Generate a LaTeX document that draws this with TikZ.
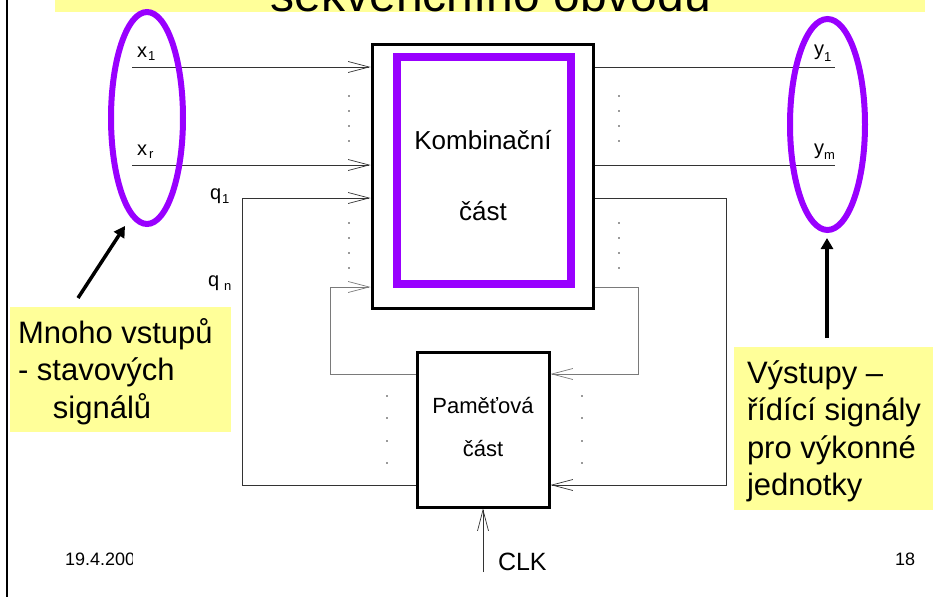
\documentclass[tikz,border=0pt]{standalone}
\usepackage{fontspec}
\setmainfont{Liberation Sans}
\usetikzlibrary{arrows.meta,shapes.geometric}
\definecolor{violetline}{HTML}{9900FF}
\definecolor{notefill}{HTML}{FFFF99}
\definecolor{wiredark}{HTML}{333333}
\definecolor{wirelight}{HTML}{7A7A7A}
% font size in pt, baselineskip equal to size
\newcommand\fsz[1]{\fontsize{#1}{#1}\selectfont}
% signal label: letter, subscript, kern before subscript, drop of subscript
\newcommand\sigl[4]{{\fsz{20}#1}\kern#3{\fsz{13}\raisebox{-#4}{#2}}}
\begin{document}
\begin{tikzpicture}[x=1pt,y=-1pt,
  txt/.style={inner sep=0pt,outer sep=0pt},
  wire/.style={draw=wiredark,line width=0.9pt},
  wirel/.style={draw=wirelight,line width=0.9pt},
  barb/.style={-{Straight Barb[length=21pt,width=11pt,line width=0.7pt]}},
  block/.style={draw=black,line width=3pt,fill=white,inner sep=0pt},
  oval/.style={draw=violetline,line width=6pt,inner sep=0pt},
  note/.style={fill=notefill,inner sep=0pt,anchor=north west},
  pointer/.style={draw=black,line width=3.5pt,-{Triangle[length=11pt,width=12pt]}},
  dot/.style={fill=wiredark}]
\useasboundingbox (0,0) rectangle (951,597);
\fill[white] (0,0) rectangle (951,597);

% slide frame edge
\draw[black,line width=2pt] (7,0) -- (7,597);

% title band, cut at the top edge
\begin{scope}
  \clip (0,0) rectangle (951,12);
  \fill[notefill] (55,0) rectangle (925,12);
  \node[txt,anchor=base,font=\fsz{48}] (title) at (491,11) {sekvenčního obvodu};
\end{scope}

% blocks
\node[block,minimum width=221,minimum height=264] (comb) at (482.5,176) {};
\node[draw=violetline,line width=8pt,inner sep=0pt,minimum width=174,minimum height=227] (combcore) at (484,170.5) {};
\node[block,minimum width=132,minimum height=155] (mem) at (483,429.5) {};

\node[txt,anchor=base,font=\fsz{26}] (combname1) at (483,149) {Kombinační};
\node[txt,anchor=base,font=\fsz{26}] (combname2) at (483,220) {část};
\node[txt,anchor=base,font=\fsz{22}] (memname1) at (483,413) {Paměťová};
\node[txt,anchor=base,font=\fsz{22}] (memname2) at (483,456) {část};

% input wires
\coordinate (x1s) at (132,67);
\coordinate (xrs) at (132,165);
\draw[wire,barb] (x1s) -- (x1s -| comb.west);
\draw[wire,barb] (xrs) -- (xrs -| comb.west);

% output wires
\coordinate (y1e) at (835,67);
\coordinate (yme) at (835,165);
\draw[wire] (y1e -| comb.east) -- (y1e);
\draw[wire] (yme -| comb.east) -- (yme);

% state feedback from memory to combinational part
\coordinate (q1a) at (242,485);
\coordinate (q1b) at (242,198);
\draw[wire,barb] (q1a -| mem.west) -- (q1a) -- (q1b) -- (q1b -| comb.west);
\coordinate (qna) at (330,374);
\coordinate (qnb) at (330,287);
\draw[wirel,barb] (qna -| mem.west) -- (qna) -- (qnb) -- (qnb -| comb.west);

% next-state wires from combinational part to memory
\coordinate (r1a) at (726,198);
\coordinate (r1b) at (726,485);
\draw[wire,barb] (r1a -| comb.east) -- (r1a) -- (r1b) -- (r1b -| mem.east);
\coordinate (rna) at (638,287);
\coordinate (rnb) at (638,374);
\draw[wirel,barb] (rna -| comb.east) -- (rna) -- (rnb) -- (rnb -| mem.east);

% clock
\coordinate (clkfoot) at (483,572);
\draw[wire,barb] (clkfoot) -- (clkfoot |- mem.south);
\node[txt,anchor=base west,font=\fsz{25}] (clk) at (498,570) {CLK};

% ellipsis dots
\foreach \x in {349,619}
  \foreach \y in {96,111,126,141,223,238,253,268}
    \fill[dot] (\x,\y) circle (0.9);
\foreach \x in {387,582}
  \foreach \y in {396,418,441,463}
    \fill[dot] (\x,\y) circle (0.9);

% signal labels
\node[txt,anchor=base west] (labx1) at (137,57) {\sigl{x}{1}{1pt}{3pt}};
\node[txt,anchor=base west] (labxr) at (137,155) {\sigl{x}{r}{2pt}{3pt}};
\node[txt,anchor=base west] (labq1) at (210,199) {\sigl{q}{1}{1pt}{4pt}};
\node[txt,anchor=base west] (labqn) at (208,286) {\sigl{q}{n}{5pt}{4pt}};
\node[txt,anchor=base west] (laby1) at (814,55) {\sigl{y}{1}{0pt}{6pt}};
\node[txt,anchor=base west] (labym) at (814,154) {\sigl{y}{m}{0pt}{5pt}};

% grouping ovals
\node[oval,ellipse,minimum width=72,minimum height=212] (ingroup) at (147,118) {};
\node[oval,ellipse,minimum width=75,minimum height=211] (outgroup) at (827.5,124.5) {};

% callouts
\node[note,minimum width=221,minimum height=125] (leftnote) at (10,307) {};
\node[txt,anchor=base west,font=\fsz{31}] (lefttext) at (18,343)
  {\vtop{\baselineskip=37.5pt\hbox{Mnoho vstupů}\hbox{- stavových}\hbox{\hspace*{35pt}signálů}}};
\node[note,minimum width=199,minimum height=163] (rightnote) at (734,347) {};
\node[txt,anchor=base west,font=\fsz{31}] (righttext) at (747,383)
  {\vtop{\baselineskip=37.5pt\hbox{Výstupy –}\hbox{řídící signály}\hbox{pro výkonné}\hbox{jednotky}}};

\coordinate (lefttail) at (78,298);
\coordinate (lefttip) at (125,226);
\draw[pointer] (lefttail) -- (lefttip);
\coordinate (righttail) at (827,338);
\coordinate (righttip) at (827,238);
\draw[pointer] (righttail) -- (righttip);

% footer
\begin{scope}
  \clip (0,0) rectangle (132,597);
  \node[txt,anchor=base west,font=\fsz{18}] (date) at (65,565) {19.4.200};
\end{scope}
\node[txt,anchor=base west,font=\fsz{18}] (page) at (895,565) {18};
\end{tikzpicture}
\end{document}
